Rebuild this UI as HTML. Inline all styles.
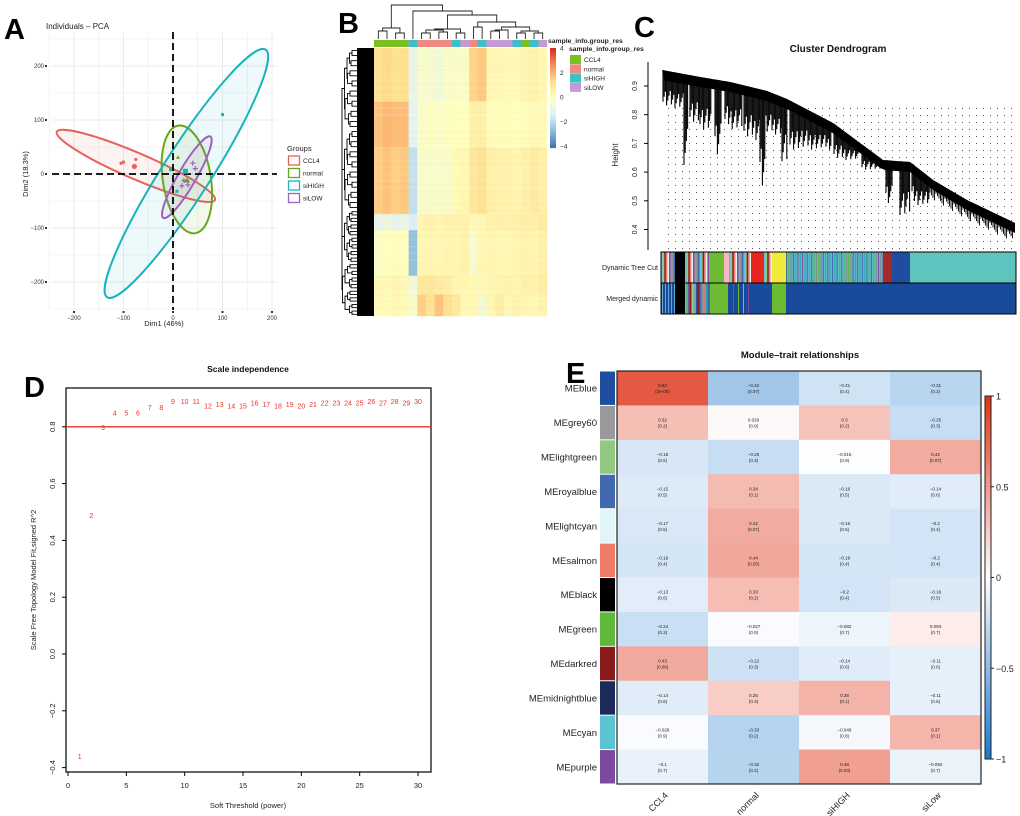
<!DOCTYPE html>
<html><head><meta charset="utf-8">
<style>
html,body{margin:0;padding:0;background:#fff;}
svg{display:block;font-family:"Liberation Sans",sans-serif;}
</style></head>
<body>
<svg id="fig" width="1020" height="816" viewBox="0 0 1020 816" xmlns="http://www.w3.org/2000/svg">
<defs>
<pattern id="dots" x="0" y="0" width="7" height="7" patternUnits="userSpaceOnUse"><rect x="3" y="3" width="1" height="1" fill="#555"/></pattern>
</defs>
<g id="panelA"></g>
<g id="panelB"></g>
<g id="panelC"></g>
<g id="panelD"></g>
<g id="panelE"></g>
</svg>
<script>
// ===== Panel A data =====
const pcaGroups = ["CCL4","normal","siHIGH","siLOW"];
const pcaColors = ["#e8625a","#6aa51e","#19b2bd","#9d62b8"];
const pcaX = [[-105,-100,-75,-78],[10,30],[-5,100,8,25],[40,45,22,18,30]];
const pcaY = [[20,22,27,14],[31,-12],[8,110,-32,5],[20,10,-12,-22,-20]];
const ellCX = [-75,28,27,28];
const ellCY = [15,-10,1,-6];
const ellA = [174,110,297,95];
const ellAng = [23.3,81,-57.4,-59.9];
const ellB = [13,24,24,9];
const pcaXTicks = [-200,-100,0,100,200];
const pcaYTicks = [200,100,0,-100,-200];

// ===== Panel B data =====
const sampleGroups = [0,0,0,0,2,1,1,1,1,2,3,1,2,3,3,3,2,0,2,3];
const bandEdges = [0,0.2,0.37,0.62,0.68,0.85,0.92,1.0];
const bandVals = [
 [1.2,1.4,1.2,1.3,-1.0,-0.3,-0.4,-0.6,-0.3,-0.2,-0.2,1.5,1.7,0.3,0.3,0.2,0.2,0.4,0.5,0.3],
 [1.8,2.0,1.9,1.9,-1.2,-0.2,-0.1,-0.2,-0.1,0.0,0.0,0.6,0.6,0.1,0.1,0.1,0.0,0.1,0.2,0.2],
 [1.6,1.8,1.6,1.7,-1.8,-0.3,-0.3,-0.2,-0.3,0.2,0.3,1.0,1.2,0.6,0.5,0.5,0.4,0.6,0.8,0.6],
 [-1.0,-0.8,-1.1,-0.9,-1.4,0.4,0.5,0.4,0.5,0.5,0.5,0.2,0.3,0.5,0.6,0.5,0.6,0.7,0.6,0.8],
 [-0.2,0.0,0.1,0.0,-2.6,0.3,0.4,0.3,0.4,0.4,0.5,-0.4,0.3,0.4,0.3,0.3,0.4,0.5,0.4,0.6],
 [0.3,0.2,0.4,0.2,-0.6,0.9,1.0,0.8,0.7,0.4,0.3,0.2,0.2,0.3,0.4,0.5,0.4,0.6,0.5,0.7],
 [0.2,0.1,0.3,0.2,-0.3,1.6,1.2,1.8,1.3,0.9,0.2,0.3,-0.5,0.4,0.7,0.3,0.5,0.4,0.3,0.5]
];
const hmTicks = [4,2,0,-2,-4];

// ===== Panel D data =====
const powers = [1,2,3,4,5,6,7,8,9,10,11,12,13,14,15,16,17,18,19,20,21,22,23,24,25,26,27,28,29,30];
const fitR2 = [-0.36,0.49,0.80,0.85,0.85,0.85,0.87,0.87,0.89,0.89,0.89,0.875,0.88,0.875,0.875,0.885,0.88,0.875,0.88,0.875,0.88,0.885,0.885,0.885,0.885,0.89,0.885,0.89,0.885,0.89];
const dXTicks = [0,5,10,15,20,25,30];
const dYTicks = [-0.4,-0.2,0.0,0.2,0.4,0.6,0.8];

// ===== Panel E data =====
const modules = ["MEblue","MEgrey60","MElightgreen","MEroyalblue","MElightcyan","MEsalmon","MEblack","MEgreen","MEdarkred","MEmidnightblue","MEcyan","MEpurple"];
const moduleColors = ["#1f4ea0","#999999","#90c97f","#4169b0","#e0f5f5","#f07b6b","#000000","#5fb83a","#8b1a1a","#1c2a5c","#5bc4d0","#7c4aa0"];
const traits = ["CCL4","normal","siHIGH","siLow"];
const corVals = [
 [0.83,-0.42,-0.21,-0.31],[0.32,0.029,0.3,-0.25],[-0.18,-0.25,-0.015,0.42],[-0.15,0.34,-0.16,-0.14],
 [-0.17,0.42,-0.16,-0.2],[-0.19,0.44,-0.19,-0.2],[-0.13,0.33,-0.2,-0.16],[-0.24,-0.027,-0.082,0.093],
 [0.43,-0.22,-0.14,-0.11],[-0.14,0.25,0.38,-0.11],[-0.028,-0.33,-0.049,0.37],[-0.1,-0.32,0.48,-0.092]];
const pVals = [
 ["3e-05","0.07","0.4","0.2"],["0.2","0.9","0.2","0.3"],["0.5","0.3","0.9","0.07"],["0.5","0.1","0.5","0.6"],
 ["0.5","0.07","0.5","0.4"],["0.4","0.05","0.4","0.4"],["0.6","0.2","0.4","0.5"],["0.3","0.9","0.7","0.7"],
 ["0.06","0.3","0.6","0.6"],["0.6","0.3","0.1","0.6"],["0.9","0.2","0.8","0.1"],["0.7","0.2","0.03","0.7"]];
const eTicks = [1,0.5,0,-0.5,-1];

const NS="http://www.w3.org/2000/svg";
function mk(parent,tag,attrs,text){const e=document.createElementNS(NS,tag);for(const k in attrs)e.setAttribute(k,attrs[k]);if(text!==undefined)e.textContent=text;parent.appendChild(e);return e;}
function fmt(v){return (v<0?"\u2212":"")+Math.abs(v);}
const root=document.getElementById('fig');
[["A",4,39],["B",338,33],["C",634,37],["D",24,397],["E",566,383]].forEach(l=>{
 const t=mk(root,'text',{x:l[1],y:l[2],'font-size':29,'font-weight':'bold'},l[0]);
 
 
});

// ===== Panel A =====
(function(){
 const g=document.getElementById('panelA');
 const x0=173,y0=174,sx=0.495,sy=0.54;
 const X=v=>x0+v*sx, Y=v=>y0-v*sy;
 const L=52,R=277,T=32,B=310;
 for(let v=-250;v<=200;v+=50){const gl=mk(g,'line',{x1:X(v),x2:X(v),y1:T,y2:B,stroke:'#ebebeb','stroke-width':v%100===0?1:0.6});}
 for(let v=-250;v<=250;v+=50){if(Y(v)<T||Y(v)>B)continue;const gl=mk(g,'line',{x1:L,x2:R,y1:Y(v),y2:Y(v),stroke:'#ebebeb','stroke-width':v%100===0?1:0.6});}
 for(let i=0;i<4;i++){
  const cx=X(ellCX[i]),cy=Y(ellCY[i]);
  const e=mk(g,'ellipse',{cx:cx,cy:cy,rx:ellA[i]*sx,ry:ellB[i],transform:`rotate(${ellAng[i]} ${cx} ${cy})`,fill:pcaColors[i],'fill-opacity':0.08,stroke:pcaColors[i],'stroke-width':2});
  
  
 }
 mk(g,'line',{x1:X(0),x2:X(0),y1:T,y2:B,stroke:'#000','stroke-width':1.8,'stroke-dasharray':'7,4'});
 mk(g,'line',{x1:L,x2:R,y1:Y(0),y2:Y(0),stroke:'#000','stroke-width':1.8,'stroke-dasharray':'7,4'});
 for(let i=0;i<4;i++){
  pcaX[i].forEach((xv,j)=>{
   const px=X(xv),py=Y(pcaY[i][j]);let p;
   if(i===0)p=mk(g,'circle',{cx:px,cy:py,r:1.6,fill:pcaColors[0]});
   else if(i===1)p=mk(g,'path',{d:`M${px},${py-2}L${px+2},${py+1.5}L${px-2},${py+1.5}Z`,fill:pcaColors[1]});
   else if(i===2)p=mk(g,'rect',{x:px-1.5,y:py-1.5,width:3,height:3,fill:pcaColors[2]});
   else p=mk(g,'path',{d:`M${px-2.5},${py}H${px+2.5}M${px},${py-2.5}V${py+2.5}`,stroke:pcaColors[3],'stroke-width':1.2});
   
   
  });
 }
 [[0,-78,14],[1,28,-12],[2,25,5],[3,30,-8]].forEach(c=>{
  const px=X(c[1]),py=Y(c[2]);
  if(c[0]===0)mk(g,'circle',{cx:px,cy:py,r:2.6,fill:pcaColors[0]});
  else if(c[0]===1)mk(g,'path',{d:`M${px},${py-3}L${px+3},${py+2}L${px-3},${py+2}Z`,fill:pcaColors[1]});
  else if(c[0]===2)mk(g,'rect',{x:px-2.5,y:py-2.5,width:5,height:5,fill:pcaColors[2]});
 });
 pcaXTicks.forEach(v=>{mk(g,'rect',{x:X(v)-1,y:B+1,width:2,height:2,fill:'#333'});const t=mk(g,'text',{x:X(v),y:B+10,'font-size':6,'text-anchor':'middle',fill:'#333'},fmt(v));});
 pcaYTicks.forEach(v=>{mk(g,'rect',{x:L-7,y:Y(v)-1,width:2,height:2,fill:'#333'});const t=mk(g,'text',{x:L-8,y:Y(v)+2,'font-size':6,'text-anchor':'end',fill:'#333'},fmt(v));});
 mk(g,'text',{x:46,y:29,'font-size':8,fill:'#222',},'Individuals \u2013 PCA');
 mk(g,'text',{x:164,y:326,'font-size':7.5,'text-anchor':'middle',fill:'#222',},'Dim1 (46%)');
 mk(g,'text',{x:0,y:0,'font-size':7.5,'text-anchor':'middle',fill:'#222',transform:'translate(28,174) rotate(-90)',},'Dim2 (18.3%)');
 mk(g,'text',{x:287,y:151,'font-size':7.5,fill:'#222',},'Groups');
 pcaGroups.forEach((n,i)=>{
  const y=156+i*12.5;
  const le=mk(g,'g',{});
  
  
  mk(le,'rect',{x:288.5,y:y,width:11,height:9,fill:'none',stroke:pcaColors[i],'stroke-width':1.3});
  mk(le,'text',{x:303,y:y+7,'font-size':6.5,fill:'#222'},n);
 });
})();

// ===== Panel B =====
(function(){
 const g=document.getElementById('panelB');
 const L=374,R=547,T=48,B=316,n=20,cw=(R-L)/n;
 const stops=[[-4,[69,117,180]],[-2.67,[145,191,219]],[-1.33,[224,243,248]],[0,[255,255,191]],[1.33,[254,224,144]],[2.67,[252,141,89]],[4,[215,48,39]]];
 function col(v){v=Math.max(-4,Math.min(4,v));for(let i=0;i<stops.length-1;i++){const a=stops[i],b=stops[i+1];if(v<=b[0]){const t=(v-a[0])/(b[0]-a[0]);return `rgb(${a[1].map((c,k)=>Math.round(c+(b[1][k]-c)*t)).join(',')})`;}}return 'rgb(215,48,39)';}
 const grpCols=["#7cbf23","#f08a80","#3ebfc8","#c49ad3"];
 const legendNames=["CCL4","normal","siHIGH","siLOW"];
 bandVals.forEach((row,b)=>{
  const y1=T+bandEdges[b]*(B-T),y2=T+bandEdges[b+1]*(B-T);
  row.forEach((v,c)=>{
   const r=mk(g,'rect',{x:L+c*cw,y:y1,width:cw+0.3,height:y2-y1+0.3,fill:col(v)});
   
   
  });
 });
 // texture: thin row variation overlay (decorative)
 for(let y=T,i=0;y<B;y+=2.2,i++){
  const a=((i*37)%11)/11;
  mk(g,'rect',{x:L,y:y,width:R-L,height:1.2,fill:(i%3===0)?'#fff':'#f4a460','fill-opacity':(i%3===0?0.18:0.08)*a});
 }
 sampleGroups.forEach((gi,c)=>{
  const r=mk(g,'rect',{x:L+c*cw,y:40,width:cw+0.2,height:7,fill:grpCols[gi]});
  
  
 });
 // column dendrogram via merge list
 const leafX=i=>L+(i+0.5)*cw;
 const nodes=[];for(let i=0;i<20;i++)nodes.push({x:leafX(i),y:39});
 const merges=[[0,1,31],[2,3,33],[20,21,28],[5,6,33],[7,8,32],[23,24,30],[9,10,33],[25,26,29],[11,12,27],[13,14,31],[29,15,30],[16,17,33],[18,19,33],[31,32,31],[30,33,27],[28,34,22],[27,35,15],[4,36,11],[22,37,5]];
 let dd='';
 merges.forEach(m=>{const a=nodes[m[0]],b=nodes[m[1]];dd+=`M${a.x},${a.y}V${m[2]}H${b.x}V${b.y}`;nodes.push({x:(a.x+b.x)/2,y:m[2]});});
 mk(g,'path',{d:dd,fill:'none',stroke:'#222','stroke-width':0.9,});
 // row dendrogram
 mk(g,'rect',{x:357,y:T,width:17,height:B-T,fill:'#000'});
 let d='';
 function tree(y1,y2,depth){const ym=(y1+y2)/2;const x=357-(6-depth)*2.5-((Math.round(y1)*7)%3);if(depth>=6||y2-y1<6)return {x:357,y:ym};const a=tree(y1,ym,depth+1),b=tree(ym,y2,depth+1);d+=`M${a.x},${a.y}H${x}V${b.y}H${b.x}`;return {x:x,y:(a.y+b.y)/2};}
 const r1=tree(T,210,0),r2=tree(210,B,0);
 d+=`M${r1.x},${r1.y}H342V${r2.y}H${r2.x}`;
 mk(g,'path',{d:d,fill:'none',stroke:'#000','stroke-width':0.9,});
 for(let i=0;i<50;i++){const v=4-8*i/49;mk(g,'rect',{x:550,y:48+i*2,width:6,height:2.1,fill:col(v)});}
 hmTicks.forEach(v=>{const y=48+(4-v)/8*98;mk(g,'text',{x:560,y:y+2.5,'font-size':6.5,fill:'#222'},fmt(v));});
 mk(g,'text',{x:548,y:43,'font-size':6.8,'font-weight':'bold',fill:'#222',},'sample_info.group_res');
 mk(g,'text',{x:569,y:51,'font-size':6.8,'font-weight':'bold',fill:'#222'},'sample_info.group_res');
 legendNames.forEach((n,i)=>{
  const le=mk(g,'g',{});
  
  
  mk(le,'rect',{x:570,y:55+i*9.3,width:11,height:9,fill:grpCols[i]});
  mk(le,'text',{x:584,y:62+i*9.3,'font-size':6.5,fill:'#222'},n);
 });
})();

// ===== Panel C =====
(function(){
 const g=document.getElementById('panelC');
 const yOf=h=>86+(0.9-h)*287;
 mk(g,'text',{x:838,y:52,'font-size':10,'font-weight':'bold','text-anchor':'middle',fill:'#111',},'Cluster Dendrogram');
 mk(g,'line',{x1:648,x2:648,y1:62,y2:250,stroke:'#000','stroke-width':1});
 [0.4,0.5,0.6,0.7,0.8,0.9].forEach(h=>{const y=yOf(h);mk(g,'line',{x1:644,x2:648,y1:y,y2:y,stroke:'#000'});const t=mk(g,'text',{x:0,y:0,'font-size':7,'text-anchor':'middle',fill:'#222',transform:`translate(637,${y}) rotate(-90)`},String(h));});
 mk(g,'text',{x:0,y:0,'font-size':8,'text-anchor':'middle',fill:'#222',transform:'translate(618,155) rotate(-90)',},'Height');
 mk(g,'rect',{x:665,y:105,width:350,height:146,fill:'url(#dots)'});
 const top=[[662,70],[700,77],[730,82],[767,91],[787,99],[833,123],[883,160],[910,162],[933,180],[967,200],[1015,223]];
 function yt(x){for(let i=0;i<top.length-1;i++){if(x>=top[i][0]&&x<=top[i+1][0])return top[i][1]+(top[i+1][1]-top[i][1])*(x-top[i][0])/(top[i+1][0]-top[i][0]);}return 223;}
 // thick top band
 let band='M'+top.map(p=>p.join(',')).join(' L')+' L1015,236 ';
 for(let x=1015;x>=662;x-=5)band+=`L${x},${yt(x)+10} `;
 band+='Z';
 mk(g,'path',{d:band,fill:'#000',});
 // branch bundles (visual structure)
 const bundles=[[663,684,108],[684,688,165],[690,700,125],[700,712,130],[715,722,158],[725,742,130],[744,760,140],[760,765,190],[766,782,135],[782,788,165],[790,832,150],[834,860,160],[862,882,170],[886,893,205],[900,910,215],[912,930,205]];
 let br='';
 bundles.forEach(b=>{for(let x=b[0];x<b[1];x+=1.2){const ys=yt(x);const depth=b[2]-((x*17)%9)*((b[2]-ys)/18);br+=`M${x.toFixed(1)},${ys}V${Math.max(ys,depth).toFixed(1)}`;}});
 mk(g,'path',{d:br,stroke:'#000','stroke-width':1.1});
 let spikes='';
 for(let x=930;x<1014;x+=1.5){const y=yt(x);spikes+=`M${x},${y}V${y+12+((x*13)%9)}`;}
 mk(g,'path',{d:spikes,stroke:'#000','stroke-width':0.9});
 const pal=["#5bc4d0","#888","#7c4aa0","#1f4ea0","#f07b6b","#90c97f","#4169b0","#5fb83a","#999","#e0f5f5","#8b1a1a","#2aa9b5"];
 function stripes(gp,x1,x2,y,h,k){for(let x=x1,i=0;x<x2;x+=1.6,i++){mk(gp,'rect',{x:x,y:y,width:1.7,height:h,fill:pal[(i*k+Math.floor(i/3))%pal.length]});}}
 const dyn=mk(g,'g',{});
 
 
 const segD=[[661,675,'mix'],[675,685,'#000'],[685,710,'mix'],[710,724,'#6dbb33'],[724,729,'#f5b7c5'],[729,751,'mix'],[751,764,'#e6261f'],[764,772,'mix'],[772,786,'#f0ea3a'],[786,883,'mixt'],[883,892,'#a52a2a'],[892,910,'#1f4ea0'],[910,1016,'#5fc4bd']];
 segD.forEach(s=>{if(s[2]==='mix')stripes(dyn,s[0],s[1],252,31,5);else if(s[2]==='mixt'){mk(dyn,'rect',{x:s[0],y:252,width:s[1]-s[0],height:31,fill:'#5bb8c4'});for(let x=s[0];x<s[1];x+=2.3)mk(dyn,'rect',{x:x,y:252,width:0.9,height:31,fill:['#888','#4169b0','#7c4aa0','#5fb83a','#2aa9b5'][Math.floor(x)%5]});}else mk(dyn,'rect',{x:s[0],y:252,width:s[1]-s[0],height:31,fill:s[2]});});
 const mer=mk(g,'g',{});
 
 
 mk(mer,'rect',{x:661,y:283,width:355,height:31,fill:'#1a4b9b'});
 const segM=[[675,685,'#000'],[710,728,'#6dbb33'],[772,786,'#6dbb33']];
 stripes(mer,685,710,283,31,7);
 for(let x=662;x<675;x+=3)mk(mer,'rect',{x:x,y:283,width:1,height:31,fill:'#5fa8d0'});
 for(let x=733;x<751;x+=5)mk(mer,'rect',{x:x,y:283,width:1,height:31,fill:['#6dbb33','#7c4aa0','#5fc4bd'][Math.floor(x)%3]});
 segM.forEach(s=>mk(mer,'rect',{x:s[0],y:283,width:s[1]-s[0],height:31,fill:s[2]}));
 mk(g,'rect',{x:661,y:252,width:355,height:62,fill:'none',stroke:'#000','stroke-width':1});
 mk(g,'line',{x1:661,x2:1016,y1:283,y2:283,stroke:'#000','stroke-width':1});
 mk(g,'text',{x:658,y:270,'font-size':7,'text-anchor':'end',fill:'#222',},'Dynamic Tree Cut');
 mk(g,'text',{x:658,y:301,'font-size':7,'text-anchor':'end',fill:'#222',},'Merged dynamic');
})();

// ===== Panel D =====
(function(){
 const g=document.getElementById('panelD');
 const X=v=>68+v*11.667, Y=v=>654-v*284;
 mk(g,'rect',{x:66,y:388,width:365,height:384,fill:'none',stroke:'#000','stroke-width':1.2,});
 mk(g,'text',{x:248,y:372,'font-size':8.5,'font-weight':'bold','text-anchor':'middle',fill:'#111',},'Scale independence');
 mk(g,'line',{x1:66,x2:431,y1:Y(0.8),y2:Y(0.8),stroke:'#e8332a','stroke-width':1.4,});
 dXTicks.forEach(v=>{mk(g,'line',{x1:X(v),x2:X(v),y1:772,y2:776,stroke:'#000'});const t=mk(g,'text',{x:X(v),y:788,'font-size':7.5,'text-anchor':'middle',fill:'#222'},String(v));});
 dYTicks.forEach(v=>{mk(g,'line',{x1:62,x2:66,y1:Y(v),y2:Y(v),stroke:'#000'});const lbl=(v<0?'\u2212':'')+Math.abs(v).toFixed(1);const t=mk(g,'text',{x:0,y:0,'font-size':7.5,'text-anchor':'middle',fill:'#222',transform:`translate(55,${Y(v)}) rotate(-90)`},lbl);});
 powers.forEach((p,i)=>{
  const t=mk(g,'text',{x:X(p),y:Y(fitR2[i])+3,'font-size':7,'text-anchor':'middle',fill:'#e8332a'},String(p));
  
  
 });
 mk(g,'text',{x:248,y:808,'font-size':7.5,'text-anchor':'middle',fill:'#222',},'Soft Threshold (power)');
 mk(g,'text',{x:0,y:0,'font-size':7.5,'text-anchor':'middle',fill:'#222',transform:'translate(36,580) rotate(-90)',},'Scale Free Topology Model Fit,signed R^2');
})();

// ===== Panel E =====
(function(){
 const g=document.getElementById('panelE');
 const L=617,R=981,T=371,B=784,rh=(B-T)/modules.length,cw=(R-L)/traits.length;
 function col(v){const w=[255,255,255];const e=v>=0?[224,54,26]:[30,120,205];const t=Math.abs(v);return `rgb(${w.map((c,k)=>Math.round(c+(e[k]-c)*t)).join(',')})`;}
 mk(g,'text',{x:800,y:358,'font-size':9.5,'font-weight':'bold','text-anchor':'middle',fill:'#111',},'Module\u2013trait relationships');
 modules.forEach((m,r)=>{
  const y=T+r*rh;
  const sw=mk(g,'rect',{x:600,y:y+0.5,width:15,height:rh-1,fill:moduleColors[r]});
  
  
  const lab=mk(g,'text',{x:597,y:y+rh/2+3.5,'font-size':9.5,'text-anchor':'end',fill:'#222'},m);
  
  
  traits.forEach((tr,c)=>{
   const x=L+c*cw;
   const cell=mk(g,'rect',{x:x,y:y,width:cw+0.3,height:rh+0.3,fill:col(corVals[r][c])});
   
   
   mk(g,'text',{x:x+cw/2,y:y+rh/2-1,'font-size':4.5,'text-anchor':'middle',fill:'#222'},fmt(corVals[r][c]));
   mk(g,'text',{x:x+cw/2,y:y+rh/2+5,'font-size':4.5,'text-anchor':'middle',fill:'#222'},'('+pVals[r][c]+')');
  });
 });
 mk(g,'rect',{x:L,y:T,width:R-L,height:B-T,fill:'none',stroke:'#222','stroke-width':1.2});
 traits.forEach((tr,c)=>{
  const x=L+c*cw+cw/2;
  const t=mk(g,'text',{x:0,y:0,'font-size':9,'text-anchor':'end',fill:'#222',transform:`translate(${x+6},${B+12}) rotate(-45)`},tr);
  
  
 });
 const cbT=396,cbB=759;
 for(let i=0;i<80;i++){const v=1-2*i/79;mk(g,'rect',{x:985,y:cbT+i*(cbB-cbT)/80,width:6,height:(cbB-cbT)/80+0.5,fill:col(v)});}
 mk(g,'rect',{x:985,y:cbT,width:6,height:cbB-cbT,fill:'none',stroke:'#222','stroke-width':1});
 eTicks.forEach(v=>{const y=cbT+(1-v)/2*(cbB-cbT);mk(g,'line',{x1:991,x2:994,y1:y,y2:y,stroke:'#222'});const t=mk(g,'text',{x:996,y:y+3.5,'font-size':9,fill:'#222'},fmt(v));});
})();
</script>
</body></html>
